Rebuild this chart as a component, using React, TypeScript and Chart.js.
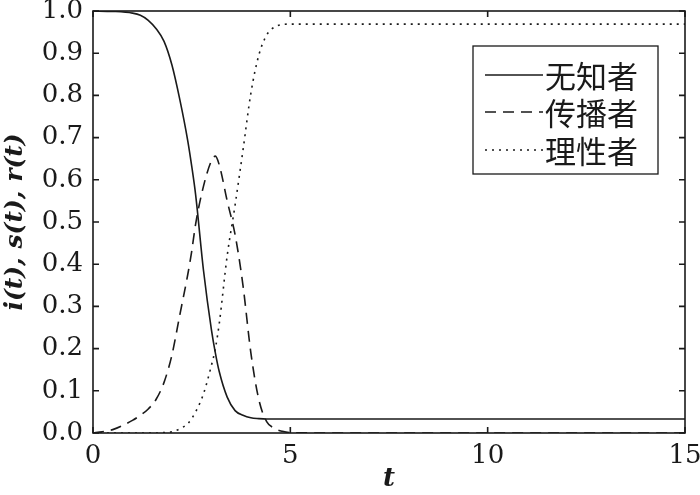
import React, { useEffect, useRef } from "react";
import { Chart, registerables } from "chart.js";

Chart.register(...registerables);

const tValues = [0, 0.5, 1.0, 1.2, 1.4, 1.6, 1.8, 2.0, 2.2, 2.4, 2.5, 2.6, 2.8, 3.0, 3.1, 3.2, 3.4, 3.6, 3.8, 4.0, 4.2, 4.4, 4.6, 4.8, 5.0, 6, 8, 10, 12, 15];
const ignorant = [1.0, 0.999, 0.995, 0.99, 0.978, 0.958, 0.928, 0.872, 0.79, 0.693, 0.633, 0.565, 0.385, 0.245, 0.19, 0.145, 0.085, 0.053, 0.042, 0.036, 0.034, 0.033, 0.033, 0.033, 0.033, 0.033, 0.033, 0.033, 0.033, 0.033];
const spreader = [0, 0.008, 0.03, 0.042, 0.057, 0.08, 0.12, 0.185, 0.28, 0.375, 0.43, 0.495, 0.585, 0.645, 0.656, 0.635, 0.55, 0.47, 0.35, 0.19, 0.08, 0.027, 0.011, 0.004, 0.001, 0, 0, 0, 0, 0];
const rational = [0, 0, 0, 0, 0, 0, 0.001, 0.003, 0.01, 0.022, 0.034, 0.05, 0.093, 0.16, 0.2, 0.26, 0.42, 0.54, 0.67, 0.805, 0.895, 0.943, 0.962, 0.968, 0.969, 0.969, 0.969, 0.969, 0.969, 0.969];

const seriesLabels = ["无知者", "传播者", "理性者"];
const seriesDashes = [[], [11, 7], [2, 5]];
const xTicks = [0, 5, 10, 15];
const yTicks = [0, 0.1, 0.2, 0.3, 0.4, 0.5, 0.6, 0.7, 0.8, 0.9, 1.0];

const INK = "#1a1a1a";
const TICK_FONT = "DejaVu Serif";

const framePlugin = {
  id: "frame",
  afterDatasetsDraw(chart: any) {
    const { ctx, chartArea } = chart;
    const { left, right, top, bottom } = chartArea;
    const xs = chart.scales.x;
    const ys = chart.scales.y;
    ctx.save();
    ctx.strokeStyle = INK;
    ctx.lineWidth = 1.6;
    ctx.setLineDash([]);
    ctx.strokeRect(left, top, right - left, bottom - top);
    const tl = 6;
    ctx.beginPath();
    for (const v of xTicks) {
      const px = xs.getPixelForValue(v);
      ctx.moveTo(px, bottom);
      ctx.lineTo(px, bottom - tl);
      ctx.moveTo(px, top);
      ctx.lineTo(px, top + tl);
    }
    for (const v of yTicks) {
      const py = ys.getPixelForValue(v);
      ctx.moveTo(left, py);
      ctx.lineTo(left + tl, py);
      ctx.moveTo(right, py);
      ctx.lineTo(right - tl, py);
    }
    ctx.stroke();

    // legend
    const bx = left + 380;
    const by = top + 35;
    const bw = 185;
    const bh = 128;
    ctx.fillStyle = "#ffffff";
    ctx.fillRect(bx, by, bw, bh);
    ctx.lineWidth = 1.3;
    ctx.strokeRect(bx, by, bw, bh);
    ctx.font = '31px "Noto Sans CJK SC"';
    ctx.textBaseline = "middle";
    ctx.textAlign = "left";
    ctx.fillStyle = INK;
    const rowsY = [by + 29, by + 66, by + 104];
    seriesLabels.forEach((lab, i) => {
      const y = rowsY[i];
      ctx.beginPath();
      ctx.setLineDash(seriesDashes[i]);
      ctx.lineWidth = 1.5;
      ctx.moveTo(bx + 12, y);
      ctx.lineTo(bx + 70, y);
      ctx.stroke();
      ctx.setLineDash([]);
      ctx.fillText(lab, bx + 72, y + 1);
    });
    ctx.restore();
  },
};

export default function App() {
  const ref = useRef<HTMLCanvasElement | null>(null);
  useEffect(() => {
    if (!ref.current) return;
    const mk = (vals: number[]) => tValues.map((t, i) => ({ x: t, y: vals[i] }));
    const chart = new Chart(ref.current, {
      type: "line",
      data: {
        datasets: [
          { label: seriesLabels[0], data: mk(ignorant), borderColor: INK, borderWidth: 1.6, borderDash: seriesDashes[0], pointRadius: 0, cubicInterpolationMode: "monotone" },
          { label: seriesLabels[1], data: mk(spreader), borderColor: INK, borderWidth: 1.6, borderDash: seriesDashes[1], pointRadius: 0, cubicInterpolationMode: "monotone" },
          { label: seriesLabels[2], data: mk(rational), borderColor: INK, borderWidth: 1.6, borderDash: seriesDashes[2], pointRadius: 0, cubicInterpolationMode: "monotone" },
        ],
      },
      options: {
        animation: false,
        responsive: false,
        maintainAspectRatio: false,
        layout: { padding: { top: 11, right: 15, left: 0, bottom: 0 } },
        plugins: { legend: { display: false }, tooltip: { enabled: false } },
        scales: {
          x: {
            type: "linear",
            min: 0,
            max: 15,
            grid: { display: false, drawTicks: false },
            border: { display: false },
            afterBuildTicks: (s: any) => { s.ticks = xTicks.map((v) => ({ value: v })); },
            afterFit: (s: any) => { s.height = 62; s.paddingLeft = 0; s.paddingRight = 0; },
            ticks: { color: INK, font: { family: TICK_FONT, size: 26 }, padding: 8, maxRotation: 0 },
            title: { display: true, text: "t", color: INK, font: { family: TICK_FONT, size: 26, style: "italic", weight: "bold" }, padding: { top: -3, bottom: 0 } },
          },
          y: {
            type: "linear",
            min: 0,
            max: 1,
            grid: { display: false, drawTicks: false },
            border: { display: false },
            afterBuildTicks: (s: any) => { s.ticks = yTicks.map((v) => ({ value: v })); },
            afterFit: (s: any) => { s.width = 93; s.paddingTop = 0; s.paddingBottom = 0; },
            ticks: { color: INK, font: { family: TICK_FONT, size: 26 }, padding: 10, callback: (v: any) => Number(v).toFixed(1) },
            title: { display: true, text: "i(t), s(t), r(t)", color: INK, font: { family: TICK_FONT, size: 25, style: "italic", weight: "bold" }, padding: { top: 0, bottom: 0 } },
          },
        },
      },
      plugins: [framePlugin],
    });
    return () => chart.destroy();
  }, []);
  return (
    <div style={{ position: "absolute", left: 0, top: 0, width: 700, height: 495, background: "#fff" }}>
      <canvas ref={ref} width={700} height={495} style={{ display: "block" }} />
    </div>
  );
}
